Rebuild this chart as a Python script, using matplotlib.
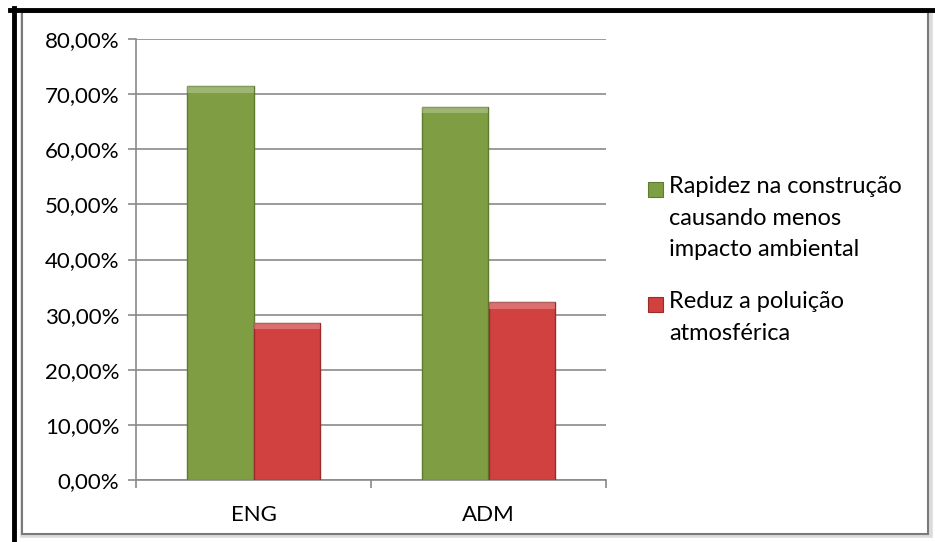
import numpy as np
import matplotlib
matplotlib.use("Agg")
import matplotlib.pyplot as plt
from matplotlib.patches import Rectangle
from matplotlib.lines import Line2D
from matplotlib.ticker import FuncFormatter

plt.rcParams['font.family'] = ['Lato', 'DejaVu Sans']

# data
categories = ["ENG", "ADM"]
series_names = ["Rapidez na construção\ncausando menos\nimpacto ambiental",
                "Reduz a poluição\natmosférica"]
rapidez = [0.7143, 0.6774]
reduz = [0.2857, 0.3226]
yticks = [0.0, 0.1, 0.2, 0.3, 0.4, 0.5, 0.6, 0.7, 0.8]

colors = ["#7F9E44", "#D04140"]
edges = ["#5E7A2E", "#9A2B2A"]
FS = 16
LFS = 17

W, H = 935, 542
fig = plt.figure(figsize=(W / 100, H / 100), dpi=100)

# outer frame: black lines on top/left, grey border with shadow
fig.add_artist(Rectangle((23 / W, 7 / H), 907 / W, 522 / H, transform=fig.transFigure,
                         facecolor="none", edgecolor="#9a9a9a", lw=4, alpha=0.35, zorder=-3))
fig.add_artist(Rectangle((22 / W, 8 / H), 906 / W, 522 / H, transform=fig.transFigure,
                         facecolor="white", edgecolor="#7a7a7a", lw=1.5, zorder=-2))
fig.add_artist(Line2D([10 / W, 1], [1 - 9.5 / H, 1 - 9.5 / H], transform=fig.transFigure,
                      color="black", lw=3.5, zorder=-1))
fig.add_artist(Line2D([13.5 / W, 13.5 / W], [0, 1 - 8 / H], transform=fig.transFigure,
                      color="black", lw=3.5, zorder=-1))

# plot area 136..606 px wide, 39..480 px tall
ax = fig.add_axes([136 / W, 1 - 480 / H, 470 / W, 441 / H])
ax.set_facecolor("none")

x = np.arange(len(categories))
bw = 0.285
for i, vals in enumerate([rapidez, reduz]):
    pos = x + (i - 0.5) * bw
    ax.bar(pos, vals, width=bw, color=colors[i], edgecolor=edges[i], lw=1.0, zorder=3)
    # lighter bevel on top of each bar
    for p, v in zip(pos, vals):
        ax.add_patch(Rectangle((p - bw / 2, v - 0.012), bw, 0.012,
                               facecolor="white", alpha=0.25, lw=0, zorder=4))

ax.set_xlim(-0.5, 1.5)
ax.set_ylim(0, 0.8)
ax.set_yticks(yticks)
ax.yaxis.set_major_formatter(FuncFormatter(lambda v, _: f"{v * 100:.2f}%".replace(".", ",")))
ax.set_xticks(x)
ax.set_xticklabels(categories)
ax.set_xticks([-0.5, 0.5, 1.5], minor=True)
ax.tick_params(axis="x", which="major", length=0, pad=18, labelsize=FS)
ax.tick_params(axis="x", which="minor", length=6, color="#8a8a8a", width=1.2)
ax.tick_params(axis="y", length=6, color="#8a8a8a", width=1.2, labelsize=FS, pad=6)
ax.grid(axis="y", color="#8a8a8a", lw=1.2, zorder=0)
for s in ["top", "right"]:
    ax.spines[s].set_visible(False)
for s in ["left", "bottom"]:
    ax.spines[s].set_color("#8a8a8a")
    ax.spines[s].set_linewidth(1.2)

# legend drawn by hand: square aligned with first line of each entry
leg_tops = [182, 297]
for name, c, e, top in zip(series_names, colors, edges, leg_tops):
    fig.add_artist(Rectangle((648 / W, 1 - (top + 15) / H), 15 / W, 15 / H,
                             transform=fig.transFigure, facecolor=c, edgecolor=e, lw=0.8))
    fig.text(669 / W, 1 - (top - 6) / H, name, fontsize=LFS, va="top", ha="left",
             linespacing=1.62)

fig.savefig("out.png", dpi=100)
